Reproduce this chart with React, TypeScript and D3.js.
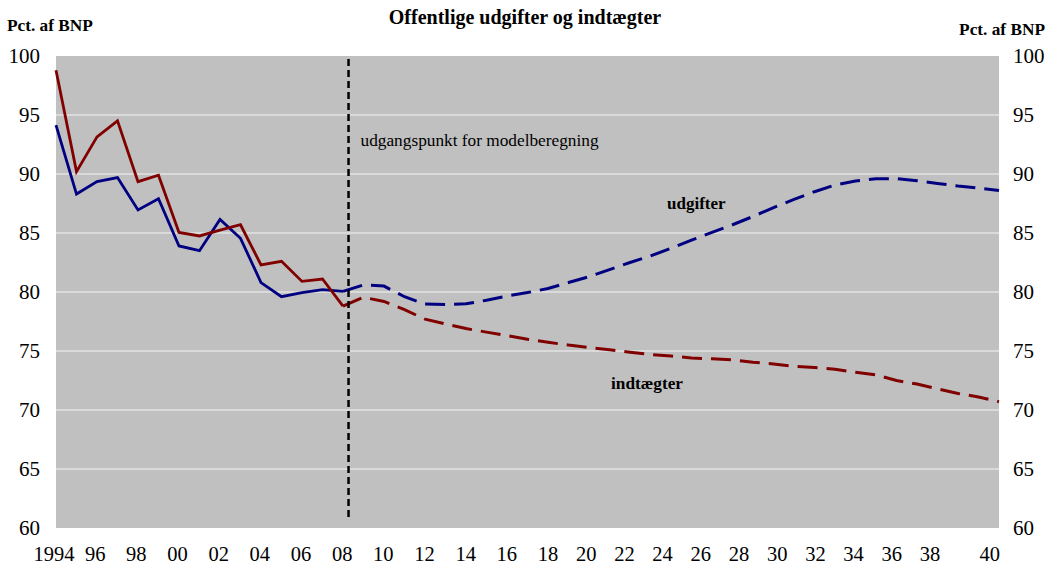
import React from "react";
import * as d3 from "d3";

const histYears = d3.range(1994, 2009);
const projYears = d3.range(2008, 2041);

const udgifterHist = [94.15, 88.3, 89.35, 89.7, 86.95, 87.9, 83.9, 83.5, 86.15, 84.55, 80.8, 79.6, 79.95, 80.2, 80.05];
const indtaegterHist = [98.8, 90.2, 93.15, 94.5, 89.35, 89.9, 85.05, 84.75, 85.25, 85.7, 82.3, 82.6, 80.9, 81.1, 78.8];

const udgifterProj = [80.05, 80.6, 80.5, 79.6, 78.98, 78.95, 79.0, 79.3, 79.66, 79.95, 80.3, 80.8, 81.3, 81.9, 82.5, 83.05, 83.7, 84.4, 85.05, 85.7, 86.4, 87.15, 87.85, 88.5, 89.07, 89.4, 89.6, 89.6, 89.43, 89.2, 88.98, 88.8, 88.6];
const indtaegterProj = [78.8, 79.55, 79.2, 78.5, 77.7, 77.3, 76.9, 76.6, 76.3, 76.0, 75.74, 75.5, 75.3, 75.1, 74.9, 74.7, 74.58, 74.4, 74.35, 74.24, 74.05, 73.9, 73.7, 73.6, 73.45, 73.2, 72.97, 72.5, 72.2, 71.8, 71.4, 71.1, 70.7];

const xTickYears = d3.range(1994, 2041, 2);
const xTickLabels = ["1994", "96", "98", "00", "02", "04", "06", "08", "10", "12", "14", "16", "18", "20", "22", "24", "26", "28", "30", "32", "34", "36", "38", "40"];
const yTicks = [60, 65, 70, 75, 80, 85, 90, 95, 100];

const title = "Offentlige udgifter og indtægter";
const unitLabel = "Pct. af BNP";
const markerYear = 2008.27;
const markerText = "udgangspunkt for modelberegning";

const RED = "#800000";
const BLUE = "#000080";
const FONT = "'Liberation Serif', 'Times New Roman', serif";

export default function App() {
  const W = 1053, H = 566;
  const left = 56, right = 999, top = 56, bottom = 528;
  const x = d3.scaleLinear().domain([1994, 2040]).range([left, right]);
  const y = d3.scaleLinear().domain([60, 100]).range([bottom, top]);
  const xl = d3.scaleLinear().domain([1994, 2018, 2038]).range([x(1994) - 2, x(2018), 930]);

  const line = d3.line<[number, number]>().x(d => x(d[0])).y(d => y(d[1]));
  const pairs = (ys: number[], vs: number[]) => ys.map((yr, i) => [yr, vs[i]] as [number, number]);

  return (
    <svg width={W} height={H} style={{ position: "absolute", left: 0, top: 0, background: "#fff" }} fontFamily={FONT}>
      <rect x={left} y={top} width={right - left} height={bottom - top} fill="#C0C0C0" />
      {yTicks.filter(t => t > 60 && t < 100).map(t => (
        <line key={t} x1={left} x2={right} y1={y(t)} y2={y(t)} stroke="#F4F4F4" strokeWidth={1.2} />
      ))}
      {yTicks.map(t => (
        <g key={"yl" + t}>
          <text x={40} y={y(t)} dy="0.35em" textAnchor="end" fontSize={21}>{t}</text>
          <text x={1013} y={y(t)} dy="0.35em" textAnchor="start" fontSize={21}>{t}</text>
        </g>
      ))}
      {xTickYears.map((yr, i) => (
        <text key={yr} x={yr === 2040 ? 1000 : xl(yr)} y={561} textAnchor={yr === 2040 ? "end" : "middle"} fontSize={20.5}>{xTickLabels[i]}</text>
      ))}

      <path d={line(pairs(projYears, udgifterProj)) || ""} fill="none" stroke={BLUE} strokeWidth={3} strokeDasharray="20 9" />
      <path d={line(pairs(projYears, indtaegterProj)) || ""} fill="none" stroke={RED} strokeWidth={3} strokeDasharray="20 9" />
      <path d={line(pairs(histYears, udgifterHist)) || ""} fill="none" stroke={BLUE} strokeWidth={2.8} strokeLinejoin="miter" />
      <path d={line(pairs(histYears, indtaegterHist)) || ""} fill="none" stroke={RED} strokeWidth={2.8} strokeLinejoin="miter" />

      <line x1={x(markerYear)} x2={x(markerYear)} y1={59} y2={521} stroke="#000" strokeWidth={2.5} strokeDasharray="7 4" />
      <text x={x(markerYear) + 12} y={146} fontSize={17.3}>{markerText}</text>

      <text x={667} y={209} fontSize={17} fontWeight="bold">udgifter</text>
      <text x={611} y={389} fontSize={17.3} fontWeight="bold">indtægter</text>

      <text x={525} y={24} textAnchor="middle" fontSize={20} fontWeight="bold">{title}</text>
      <text x={7} y={31} fontSize={17.3} fontWeight="bold">{unitLabel}</text>
      <text x={1045} y={35} textAnchor="end" fontSize={17.3} fontWeight="bold">{unitLabel}</text>
    </svg>
  );
}
